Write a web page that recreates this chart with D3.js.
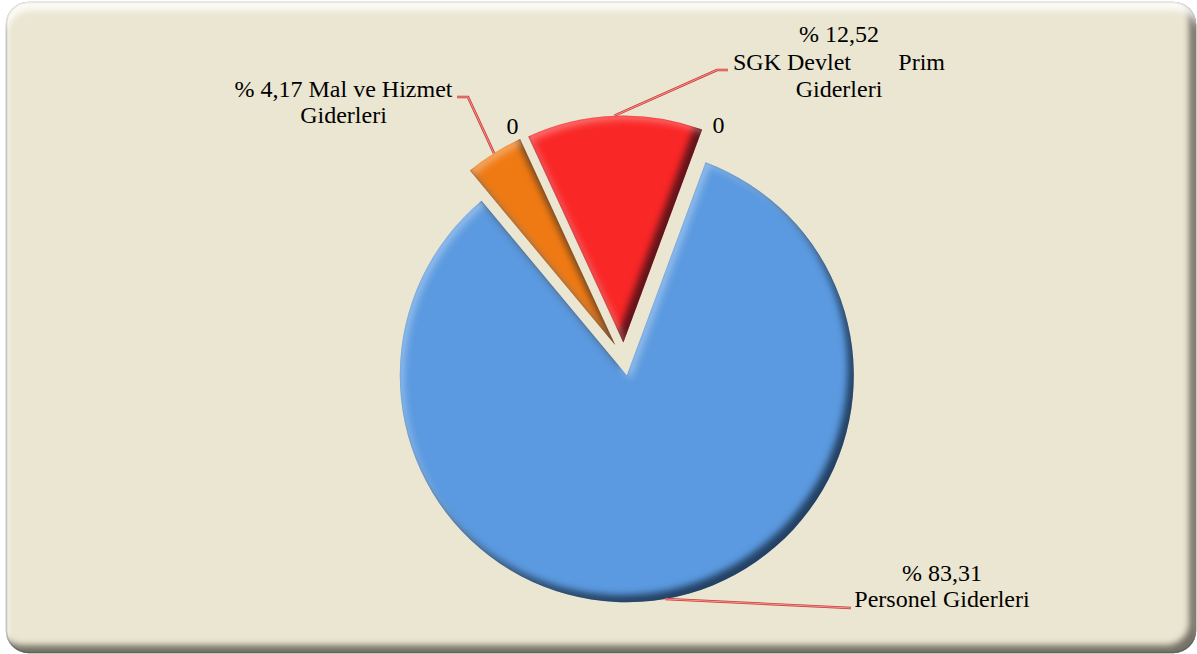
<!DOCTYPE html>
<html lang="tr">
<head>
<meta charset="UTF-8">
<title>Gider Dağılımı</title>
<script src="https://d3js.org/d3.v7.min.js"></script>
<style>
  body { margin: 0; background: #ffffff; }
  svg { display: block; }
  text { font-family: "Liberation Serif", "Times New Roman", serif; font-size: 24px; fill: #000; }
</style>
</head>
<body>
<div id="chart"></div>
<script>
// values (percent), in slice order going clockwise
var categories = ["Personel Giderleri", "Mal ve Hizmet Giderleri", "", "SGK Devlet Prim Giderleri", ""];
var values = [83.31, 4.17, 0, 12.52, 0];
var sliceColors = ["#5b9ae0", "#ef7a14", "#ef7a14", "#fa2727", "#fa2727"];

var width = 1197, height = 654;
var cx = 624, cy = 359, radius = 227, explode = 16.5;
var startDeg = 20.3;

// label layout: centre x, first baseline y, words per line, leader elbow/end
var labelLayout = [
  { x: 942, y: 581, lh: 25.7, breaks: [1, 2], leader: [[851, 608]] },
  { x: 343.5, y: 97, lh: 26, breaks: [4, 1], leader: [[468, 97], [457, 97]] },
  { zero: true, dx: -9.5, dy: -12.5 },
  { x: 839, y: 42, lh: 27.5, breaks: [1, 3, 1], spread: 212, leader: [[717, 70], [728, 70]] },
  { zero: true, dx: 10, dy: -6 }
];

var fmt = function(v) { return "% " + d3.format(".2f")(v).replace(".", ","); };

var svg = d3.select("#chart").append("svg")
    .attr("width", width)
    .attr("height", height);

var defs = svg.append("defs");

// bevel for the slices
var bevel = defs.append("filter").attr("id", "bevel")
    .attr("x", "-10%").attr("y", "-10%").attr("width", "120%").attr("height", "120%")
    .attr("color-interpolation-filters", "sRGB");
bevel.append("feGaussianBlur").attr("in", "SourceAlpha").attr("stdDeviation", 3.5).attr("result", "blur");
bevel.append("feOffset").attr("in", "blur").attr("dx", -6).attr("dy", -7).attr("result", "offDark");
bevel.append("feComposite").attr("in", "SourceAlpha").attr("in2", "offDark").attr("operator", "out").attr("result", "darkBand");
bevel.append("feFlood").attr("flood-color", "#000814").attr("flood-opacity", 0.62);
bevel.append("feComposite").attr("in2", "darkBand").attr("operator", "in").attr("result", "dark");
bevel.append("feOffset").attr("in", "blur").attr("dx", 4).attr("dy", 4).attr("result", "offLight");
bevel.append("feComposite").attr("in", "SourceAlpha").attr("in2", "offLight").attr("operator", "out").attr("result", "lightBand");
bevel.append("feGaussianBlur").attr("in", "lightBand").attr("stdDeviation", 1.2).attr("result", "lightBandB");
bevel.append("feFlood").attr("flood-color", "#fff").attr("flood-opacity", 0.35);
bevel.append("feComposite").attr("in2", "lightBandB").attr("operator", "in").attr("result", "light0");
bevel.append("feComposite").attr("in", "light0").attr("in2", "SourceAlpha").attr("operator", "in").attr("result", "light");
var bm = bevel.append("feMerge");
bm.append("feMergeNode").attr("in", "SourceGraphic");
bm.append("feMergeNode").attr("in", "dark");
bm.append("feMergeNode").attr("in", "light");

// bevel for the frame
var fb = defs.append("filter").attr("id", "frameBevel")
    .attr("x", "-2%").attr("y", "-2%").attr("width", "104%").attr("height", "104%")
    .attr("color-interpolation-filters", "sRGB");
fb.append("feGaussianBlur").attr("in", "SourceAlpha").attr("stdDeviation", 3).attr("result", "blur");
fb.append("feOffset").attr("in", "blur").attr("dx", -7).attr("dy", -8).attr("result", "offDark");
fb.append("feComposite").attr("in", "SourceAlpha").attr("in2", "offDark").attr("operator", "out").attr("result", "darkBand");
fb.append("feFlood").attr("flood-color", "#5e5c52").attr("flood-opacity", 0.85);
fb.append("feComposite").attr("in2", "darkBand").attr("operator", "in").attr("result", "dark");
fb.append("feOffset").attr("in", "blur").attr("dx", 2).attr("dy", 9).attr("result", "offLight");
fb.append("feComposite").attr("in", "SourceAlpha").attr("in2", "offLight").attr("operator", "out").attr("result", "lightBand");
fb.append("feFlood").attr("flood-color", "#ffffff").attr("flood-opacity", 0.8);
fb.append("feComposite").attr("in2", "lightBand").attr("operator", "in").attr("result", "light");
var fm = fb.append("feMerge");
fm.append("feMergeNode").attr("in", "SourceGraphic");
fm.append("feMergeNode").attr("in", "dark");
fm.append("feMergeNode").attr("in", "light");

svg.append("rect")
    .attr("x", 6.5).attr("y", 2.5)
    .attr("width", 1189).attr("height", 650)
    .attr("rx", 22).attr("ry", 22)
    .attr("fill", "#ebe6d1")
    .attr("stroke", "#8a8a84")
    .attr("stroke-width", 1.5)
    .attr("filter", "url(#frameBevel)");

var pie = d3.pie()
    .sort(null)
    .value(function(d) { return d; })
    .startAngle(startDeg * Math.PI / 180)
    .endAngle(startDeg * Math.PI / 180 + 2 * Math.PI);

var arcs = pie(values);

var arc = d3.arc().innerRadius(0).outerRadius(radius);

function offset(d) {
  var a = (d.startAngle + d.endAngle) / 2;
  return [explode * Math.sin(a), -explode * Math.cos(a)];
}

function polar(a, r) {
  return [r * Math.sin(a), -r * Math.cos(a)];
}

var g = svg.append("g").attr("transform", "translate(" + cx + "," + cy + ")");

g.selectAll("path.slice")
  .data(arcs.filter(function(d) { return d.value > 0; }))
  .join("path")
    .attr("class", "slice")
    .attr("transform", function(d) { var o = offset(d); return "translate(" + o[0] + "," + o[1] + ")"; })
    .attr("d", arc)
    .attr("fill", function(d) { return sliceColors[d.index]; })
    .attr("filter", "url(#bevel)");

// leader lines
arcs.forEach(function(d, i) {
  var lay = labelLayout[i];
  if (lay.zero) return;
  var a = (d.startAngle + d.endAngle) / 2;
  var o = offset(d);
  var p0 = polar(a, radius);
  var pts = [[cx + o[0] + p0[0], cy + o[1] + p0[1]]].concat(lay.leader);
  var line = d3.line();
  svg.append("path").attr("d", line(pts))
      .attr("fill", "none").attr("stroke", "#d23a3a").attr("stroke-width", 2.6);
  svg.append("path").attr("d", line(pts))
      .attr("fill", "none").attr("stroke", "#f3b0aa").attr("stroke-width", 0.8);
});

// labels
arcs.forEach(function(d, i) {
  var lay = labelLayout[i];
  if (lay.zero) {
    var o = offset(d);
    var p = polar(d.startAngle, radius);
    svg.append("text")
        .attr("x", cx + o[0] + p[0] + lay.dx)
        .attr("y", cy + o[1] + p[1] + lay.dy)
        .attr("dy", "0.35em")
        .attr("text-anchor", "middle")
        .text(d3.format("d")(d.value));
    return;
  }
  var tokens = [fmt(d.value)].concat(categories[i].split(" "));
  var k = 0;
  lay.breaks.forEach(function(n, li) {
    var words = tokens.slice(k, k + n);
    k += n;
    var y = lay.y + li * lay.lh;
    if (lay.spread && words.length > 2) {
      svg.append("text").attr("x", lay.x - lay.spread / 2).attr("y", y)
          .attr("text-anchor", "start").text(words.slice(0, -1).join(" "));
      svg.append("text").attr("x", lay.x + lay.spread / 2).attr("y", y)
          .attr("text-anchor", "end").text(words[words.length - 1]);
    } else {
      svg.append("text").attr("x", lay.x).attr("y", y)
          .attr("text-anchor", "middle").text(words.join(" "));
    }
  });
});
</script>
</body>
</html>
